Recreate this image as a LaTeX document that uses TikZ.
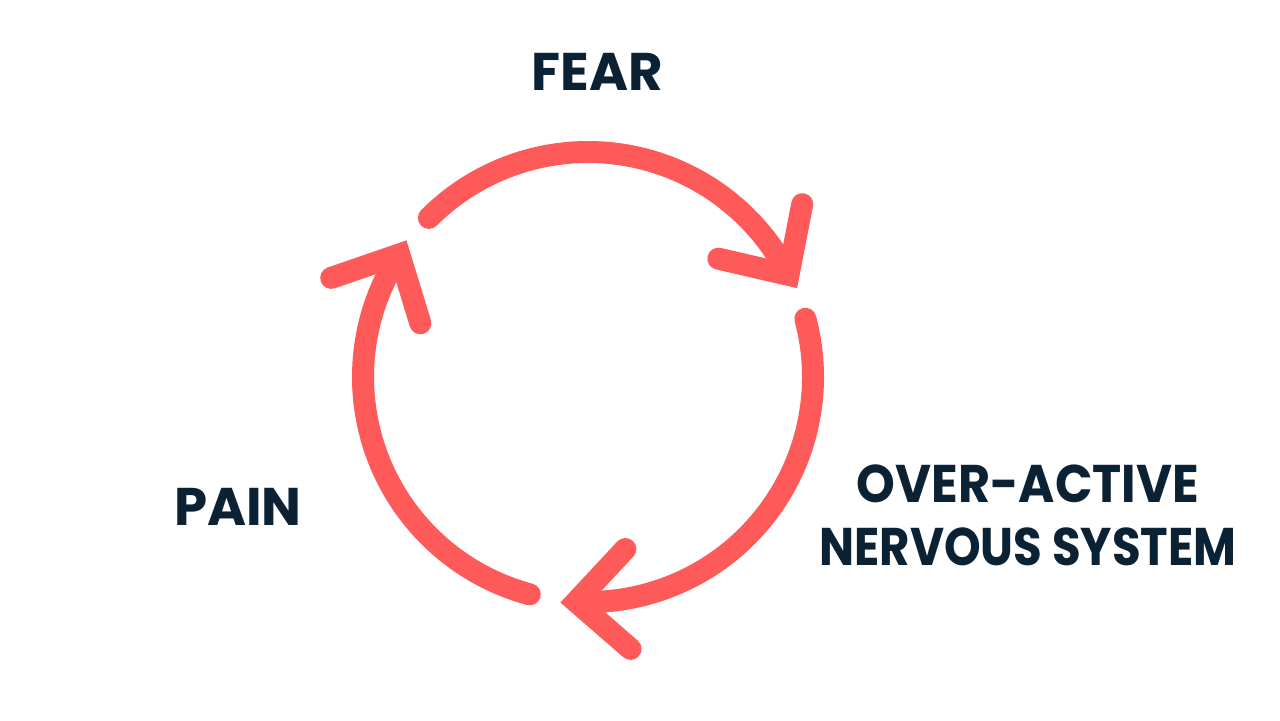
\documentclass[tikz,border=0pt]{standalone}
\usepackage{fontspec}
\setmainfont{Poppins}
\usetikzlibrary{calc}
\definecolor{coral}{HTML}{FF5A5A}
\definecolor{navy}{HTML}{0B2235}
\begin{document}
\begin{tikzpicture}[x=0.5pt,y=0.5pt,
  loop/.style={draw=coral,line width=11pt,line cap=round},
  head/.style={draw=coral,line width=11pt,line cap=round,line join=miter},
  lab/.style={text=navy,font=\fontsize{26.5}{31.5}\selectfont\bfseries,inner sep=0pt}]
\useasboundingbox[fill=white] (0,0) rectangle (1280,720);
\coordinate (C) at (588,343);
\foreach \s/\t in {135/27, 15/-93, -105/-213} {
  \pgfmathsetmacro{\e}{\t+3}
  \coordinate (tip) at ($(C)+(\t:225)$);
  \draw[loop] ($(C)+(\s:225)$) arc[start angle=\s, end angle=\e, radius=225];
  \draw[head] ($(tip)+(\t+52:72)$) -- (tip) -- ($(tip)+(\t+140:72)$);
}
\node[lab,anchor=base] (fear) at (597,630) {FEAR};
\node[lab,anchor=base] (pain) at (238,195) {PAIN};
\node[lab,anchor=base,align=center] (ons) at (1028,155)
  {\scalebox{0.93}[1]{OVER-ACTIVE}\\\scalebox{0.88}[1]{NERVOUS SYSTEM}};
\end{tikzpicture}
\end{document}
